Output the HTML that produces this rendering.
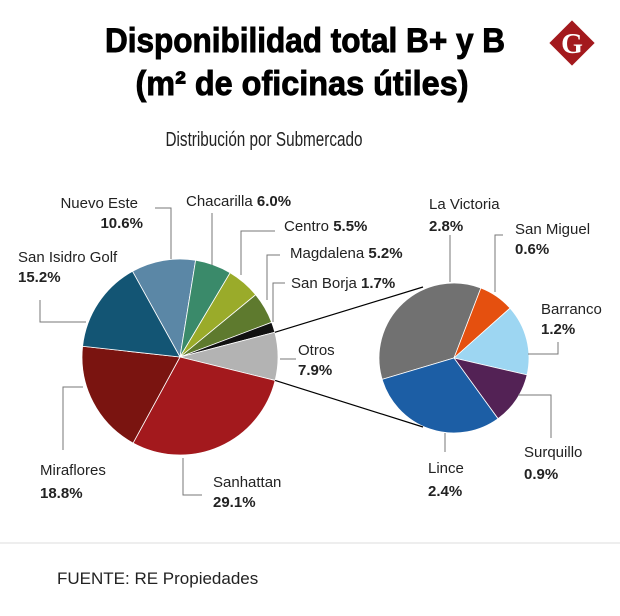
<!DOCTYPE html>
<html><head><meta charset="utf-8"><style>
body{margin:0;background:#fff;}
svg{display:block;font-family:"Liberation Sans",sans-serif;}
.ld{fill:none;stroke:#777;stroke-width:1;}
</style></head><body>
<svg id="c" width="620" height="616" viewBox="0 0 620 616">
<text x="305" y="52" text-anchor="middle" font-size="34" font-weight="bold" stroke="#000" stroke-width="0.9" textLength="400" lengthAdjust="spacingAndGlyphs">Disponibilidad total B+ y B</text>
<text x="302" y="95" text-anchor="middle" font-size="34" font-weight="bold" stroke="#000" stroke-width="0.9" textLength="333" lengthAdjust="spacingAndGlyphs">(m² de oficinas útiles)</text>
<text x="264" y="146" text-anchor="middle" font-size="20" fill="#222" textLength="197" lengthAdjust="spacingAndGlyphs">Distribución por Submercado</text>
<g>
<rect x="556" y="27" width="32" height="32" fill="#a3191d" transform="rotate(45 572 43)"/>
<text x="572" y="53" text-anchor="middle" font-family="Liberation Serif,serif" font-size="28" font-weight="bold" fill="#fff">G</text>
</g>
<g id="pies"></g>
<g id="leaders"></g>
<line x1="0" y1="543" x2="620" y2="543" stroke="#ddd"/>
<text x="57" y="584" font-size="17" fill="#222">FUENTE: RE Propiedades</text>
<g font-size="15" fill="#222">
<text x="138" y="208" text-anchor="end">Nuevo Este</text>
<text x="143" y="228" text-anchor="end" font-weight="bold">10.6%</text>
<text x="186" y="206">Chacarilla <tspan font-weight="bold">6.0%</tspan></text>
<text x="284" y="231">Centro <tspan font-weight="bold">5.5%</tspan></text>
<text x="290" y="258">Magdalena <tspan font-weight="bold">5.2%</tspan></text>
<text x="291" y="288">San Borja <tspan font-weight="bold">1.7%</tspan></text>
<text x="298" y="355">Otros</text>
<text x="298" y="375" font-weight="bold">7.9%</text>
<text x="18" y="262">San Isidro Golf</text>
<text x="18" y="282" font-weight="bold">15.2%</text>
<text x="40" y="475">Miraflores</text>
<text x="40" y="498" font-weight="bold">18.8%</text>
<text x="213" y="487">Sanhattan</text>
<text x="213" y="507" font-weight="bold">29.1%</text>
<text x="429" y="209">La Victoria</text>
<text x="429" y="231" font-weight="bold">2.8%</text>
<text x="515" y="234">San Miguel</text>
<text x="515" y="254" font-weight="bold">0.6%</text>
<text x="541" y="314">Barranco</text>
<text x="541" y="334" font-weight="bold">1.2%</text>
<text x="524" y="457">Surquillo</text>
<text x="524" y="479" font-weight="bold">0.9%</text>
<text x="428" y="473">Lince</text>
<text x="428" y="496" font-weight="bold">2.4%</text>
</g>
</svg>
<script>
const mainNames=["Nuevo Este","Chacarilla","Centro","Magdalena","San Borja","Otros","Sanhattan","Miraflores","San Isidro Golf"];
const mainValues=[10.6,6.0,5.5,5.2,1.7,7.9,29.1,18.8,15.2];
const mainColors=["#5b87a6","#3a8a6a","#9aab2a","#5e7a2e","#111111","#b3b3b3","#a3191d","#7a1410","#135574"];
const subNames=["La Victoria","San Miguel","Barranco","Surquillo","Lince"];
const subValues=[2.8,0.6,1.2,0.9,2.4];
const subColors=["#717171","#e5500f","#9dd6f2","#532255","#1c5ea5"];
const NS="http://www.w3.org/2000/svg";
const g=document.getElementById('pies');
function pol(cx,cy,r,a){const t=a*Math.PI/180;return [cx+r*Math.sin(t),cy-r*Math.cos(t)];}
function pie(names,vals,cols,cx,cy,r,start,prefix){
  const tot=vals.reduce((a,b)=>a+b,0);let a=start;
  vals.forEach((v,i)=>{
    const sw=v/tot*360;const p1=pol(cx,cy,r,a),p2=pol(cx,cy,r,a+sw);
    const p=document.createElementNS(NS,'path');
    p.setAttribute('d',`M${cx},${cy}L${p1[0]},${p1[1]}A${r},${r} 0 ${sw>180?1:0} 1 ${p2[0]},${p2[1]}Z`);
    p.setAttribute('fill',cols[i]);p.setAttribute('stroke','#fff');p.setAttribute('stroke-width','0.8');
    
    
    g.appendChild(p);a+=sw;});
}
const mainTot=mainValues.reduce((a,b)=>a+b,0);
const otrosStart=mainValues.slice(0,5).reduce((a,b)=>a+b,0)/mainTot*360-29;
const otrosEnd=otrosStart+mainValues[5]/mainTot*360;
pie(mainNames,mainValues,mainColors,180,357,98,-29,'main');
const subTot=subValues.reduce((a,b)=>a+b,0);
pie(subNames,subValues,subColors,454,358,75,21-subValues[0]/subTot*360,'sub');
const a1=pol(180,357,98,otrosStart),a2=pol(180,357,98,otrosEnd);
[[a1,[423,287]],[a2,[423,427]]].forEach(pp=>{
  const l=document.createElementNS(NS,'line');
  l.setAttribute('x1',pp[0][0]);l.setAttribute('y1',pp[0][1]);l.setAttribute('x2',pp[1][0]);l.setAttribute('y2',pp[1][1]);
  l.setAttribute('stroke','#000');l.setAttribute('stroke-width','1.2');
  
  
  g.appendChild(l);});
const leaderPaths=["M155,208H171V259","M212,213V265","M275,231H241V275","M280,255H267V300","M285,283H273V322","M280,359H296","M40,300V322H86","M63,450V387H83","M183,458V495H202","M450,235V282","M503,235H495V292","M558,342V354H528","M518,395H551V438","M445,433V452"];
const lg=document.getElementById('leaders');
leaderPaths.forEach(d=>{const p=document.createElementNS(NS,'path');p.setAttribute('d',d);p.setAttribute('class','ld');


lg.appendChild(p);});
</script>
</body></html>
